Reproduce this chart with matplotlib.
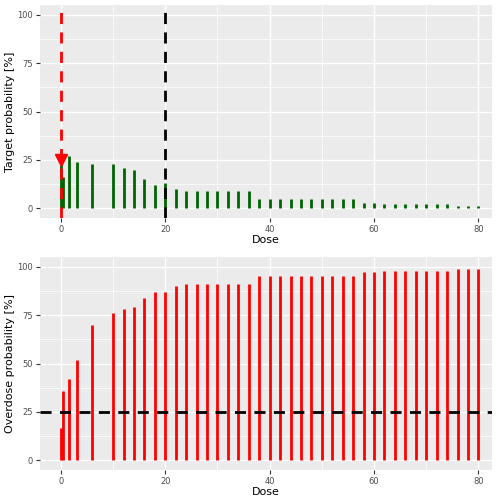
import matplotlib
matplotlib.use('Agg')
import matplotlib.pyplot as plt
import numpy as np

doses = [0.1, 0.5, 1.5, 3, 6] + list(range(10, 82, 2))
target = [24, 16, 27, 24, 23, 23, 21, 20, 15, 12, 13, 10,
          9, 9, 9, 9, 9, 9, 9,
          5, 5, 5, 5, 5, 5, 5, 5, 5, 5,
          3, 3, 2, 2, 2, 2, 2, 2, 2, 1, 1, 1]
overdose = [16.5, 36, 42, 52, 70, 76, 78, 79, 84, 87, 87, 90,
            91, 91, 91, 91, 91, 91, 91,
            95, 95, 95, 95, 95, 95, 95, 95, 95, 95,
            97, 97, 98, 98, 98, 98, 98, 98, 98, 99, 99, 99]
next_dose = 0.1
max_dose = 20
overdose_limit = 25

fig = plt.figure(figsize=(5.04, 5.04), dpi=100)
ax1 = fig.add_axes([40/504, 1-218/504, 452/504, 213/504])
ax2 = fig.add_axes([40/504, 1-470/504, 452/504, 213/504])

for ax in (ax1, ax2):
    ax.set_facecolor('#EBEBEB')
    for s in ax.spines.values():
        s.set_visible(False)
    ax.set_xlim(-4, 82.6)
    ax.set_ylim(-5, 105)
    ax.set_xticks([0, 20, 40, 60, 80])
    ax.set_xticks([10, 30, 50, 70], minor=True)
    ax.set_yticks([0, 25, 50, 75, 100])
    ax.set_yticks([12.5, 37.5, 62.5, 87.5], minor=True)
    ax.grid(True, which='major', color='white', lw=1.0)
    ax.grid(True, which='minor', color='white', lw=0.5)
    ax.set_axisbelow(True)
    ax.tick_params(which='major', colors='#333333', labelsize=6, length=3, pad=2,
                   labelcolor='#4D4D4D')
    ax.tick_params(which='minor', length=0)
    ax.set_xlabel('Dose', fontsize=8, labelpad=1)

ax1.vlines(doses, 0, target, color='#006400', lw=2)
ax1.axvline(next_dose, color='red', ls=(0, (4, 3)), lw=2)
ax1.axvline(max_dose, color='black', ls=(0, (4, 3)), lw=2)
ax1.plot([next_dose], [25], marker='v', color='red', ms=8)
ax1.set_ylabel('Target probability [%]', fontsize=8, labelpad=2)

ax2.vlines(doses, 0, overdose, color='red', lw=2)
ax2.axhline(overdose_limit, color='black', ls=(0, (4, 3)), lw=2)
ax2.set_ylabel('Overdose probability [%]', fontsize=8, labelpad=2)

fig.savefig('out.png', dpi=100, facecolor='white')
